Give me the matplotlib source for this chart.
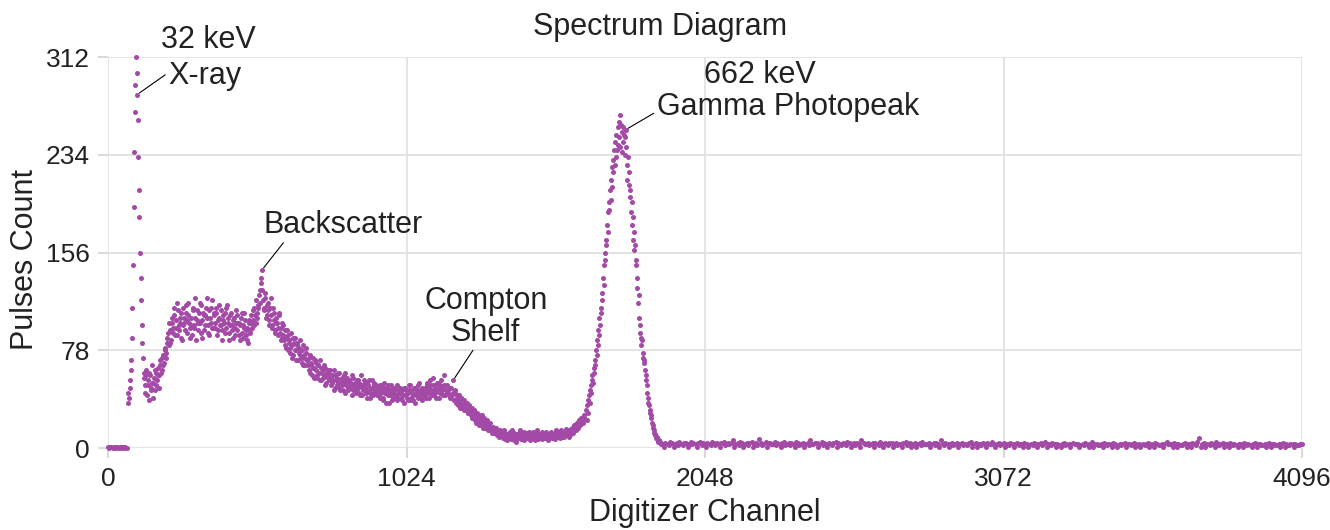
import numpy as np
import matplotlib
matplotlib.use("Agg")
import matplotlib.pyplot as plt

plt.rcParams['font.family'] = ['Liberation Sans', 'DejaVu Sans']

# ---------- Spectrum data: pulses counted per digitizer channel ----------

# below threshold, channels 0..64 (every 4th)
baseline_counts = [1, 0, 1, 1, 0, 1, 0, 1, 1, 0, 1, 0, 1, 1, 0, 1, 0]

# 32 keV X-ray line, channels 68..122 (every 2nd)
xray_counts = [36, 44, 40, 48, 54, 62, 70, 88, 112, 146, 192, 236, 268, 290,
               312, 299, 282, 262, 232, 206, 184, 156, 136, 118, 98, 84, 72, 60]

# Compton continuum with backscatter bump and shelf, channels 124..1348 (every 4th)
compton_counts = [
    56, 44, 62, 50, 38, 58, 48, 66, 52, 46, 60, 54, 64, 58, 70, 62, 74, 68, 80, 76,
    88, 82, 94, 86, 100, 92, 106, 96, 90, 110, 98, 104, 88, 112, 100, 94, 108, 102, 116, 96,
    104, 90, 110, 98, 120, 102, 94, 108, 100, 114, 88, 106, 98, 112, 104, 92, 110, 100, 118, 96,
    106, 100, 112, 94, 104, 98, 110, 86, 102, 108, 96, 114, 100, 92, 106, 98, 88, 104, 96, 110,
    94, 100, 86, 104, 92, 98, 108, 90, 96, 84, 102, 94, 100, 110, 98, 106, 118, 104, 112, 126,
    132, 142, 118, 110, 124, 106, 116, 102, 112, 120, 98, 108, 94, 104, 100, 90, 106, 96, 88, 98,
    86, 94, 80, 90, 84, 76, 92, 82, 74, 88, 78, 84, 70, 80, 74, 68, 82, 72, 66, 76,
    70, 62, 74, 66, 58, 72, 64, 68, 56, 66, 60, 70, 54, 62, 58, 64, 52, 60, 56, 62,
    50, 58, 54, 62, 48, 56, 52, 60, 46, 54, 50, 58, 44, 52, 56, 48, 54, 50, 42, 56,
    48, 52, 46, 54, 44, 50, 58, 42, 48, 52, 46, 40, 50, 54, 44, 48, 42, 52, 46, 50,
    44, 48, 40, 50, 46, 38, 52, 44, 48, 42, 36, 46, 50, 40, 44, 48, 42, 38, 46, 44,
    40, 46, 42, 36, 48, 44, 38, 46, 50, 40, 44, 38, 48, 42, 46, 40, 52, 44, 38, 46,
    42, 48, 44, 52, 40, 46, 50, 44, 56, 42, 48, 46, 52, 40, 50, 44, 48, 58, 42, 46,
    50, 44, 40, 48, 42, 54, 38, 44, 40, 34, 42, 36, 40, 32, 38, 34, 30, 36, 28, 32,
    26, 32, 24, 30, 22, 28, 20, 26, 18, 24, 22, 16, 20, 18, 22, 14, 18, 16, 12, 17,
    14, 12, 15, 10, 13, 11, 12,
]

# same region, channels 126..1346 (every 4th)
compton_counts_b = [
    50, 58, 42, 54, 60, 46, 52, 40, 56, 62, 50, 58, 48, 66, 60, 72, 66, 78, 72, 84,
    92, 100, 84, 104, 96, 112, 90, 102, 116, 94, 100, 108, 86, 98, 104, 114, 92, 106, 100, 88,
    98, 112, 96, 104, 86, 110, 100, 116, 92, 102, 108, 94, 106, 120, 98, 90, 104, 112, 96, 108,
    96, 108, 90, 102, 114, 98, 94, 106, 100, 92, 112, 104, 86, 98, 108, 94, 102, 90, 100, 106,
    100, 90, 98, 108, 88, 96, 102, 94, 86, 100, 92, 106, 96, 102, 112, 100, 108, 114, 122, 116,
    136, 126, 112, 120, 104, 114, 110, 98, 106, 96, 112, 102, 92, 100, 96, 108, 92, 86, 100, 90,
    82, 88, 94, 78, 86, 80, 72, 88, 84, 78, 70, 82, 76, 86, 72, 78, 66, 74, 80, 70,
    66, 72, 60, 68, 64, 56, 70, 62, 58, 66, 54, 64, 60, 56, 66, 50, 58, 62, 54, 58,
    56, 52, 46, 58, 54, 50, 60, 48, 52, 56, 46, 54, 60, 50, 46, 54, 48, 52, 58, 46,
    50, 44, 54, 48, 52, 42, 50, 46, 54, 48, 44, 52, 46, 40, 48, 54, 44, 50, 46, 42,
    46, 42, 50, 44, 40, 48, 44, 36, 46, 50, 42, 44, 38, 48, 46, 42, 50, 40, 44, 48,
    44, 38, 48, 42, 46, 40, 44, 50, 38, 46, 42, 48, 36, 44, 50, 42, 46, 40, 48, 44,
    46, 40, 50, 44, 48, 54, 42, 46, 50, 44, 40, 52, 48, 44, 54, 46, 42, 50, 46, 44,
    46, 42, 48, 40, 44, 38, 46, 36, 42, 38, 32, 40, 34, 38, 30, 36, 32, 28, 34, 30,
    28, 24, 30, 26, 20, 28, 24, 18, 22, 26, 20, 24, 16, 20, 18, 14, 20, 16, 14, 12,
    12, 16, 11, 13, 9, 14,
]

# valley before the photopeak, channels 1352..1636 (every 4th)
valley_counts = [
    12, 8, 14, 10, 6, 11, 9, 13, 7, 10, 12, 8, 5, 11, 9, 14, 7, 10, 12, 6,
    9, 11, 8, 13, 10, 7, 12, 9, 6, 10, 14, 8, 11, 9, 7, 12, 10, 8, 13, 6,
    10, 9, 12, 8, 11, 7, 14, 10, 9, 12, 8, 11, 13, 9, 10, 15, 12, 9, 14, 11,
    16, 12, 18, 14, 20, 16, 22, 19, 24, 20, 26, 23,
]

# same region, channels 1354..1634 (every 4th)
valley_counts_b = [
    10, 13, 7, 11, 9, 12, 8, 10, 14, 9, 6, 11, 10, 8, 12, 9, 11, 7, 13, 10,
    8, 12, 10, 6, 11, 9, 13, 8, 10, 12, 7, 9, 11, 10, 13, 8, 9, 12, 10, 7,
    11, 13, 9, 10, 8, 12, 11, 9, 13, 10, 14, 9, 12, 10, 11, 13, 10, 14, 12, 15,
    13, 17, 15, 19, 17, 21, 18, 23, 21, 25, 24,
]

# 662 keV gamma photopeak, channels 1640..1900 (every 2nd)
photopeak_counts = [
    30, 22, 34, 28, 38, 42, 36, 46, 50, 44, 54, 58, 52, 64, 60, 70, 66, 78, 74, 86,
    82, 94, 90, 104, 98, 112, 108, 124, 118, 136, 130, 146, 156, 150, 166, 162, 178, 172, 188, 196,
    190, 206, 198, 214, 224, 208, 230, 220, 238, 226, 244, 232, 250, 238, 256, 242, 260, 248, 266, 240,
    258, 252, 236, 256, 244, 250, 248, 234, 254, 240, 226, 214, 232, 210, 220, 200, 206, 188, 196, 178,
    184, 166, 172, 158, 162, 146, 150, 136, 128, 116, 122, 104, 98, 92, 88, 82, 86, 76, 72, 68,
    70, 62, 58, 54, 50, 44, 40, 36, 34, 30, 28, 24, 26, 20, 18, 16, 14, 12, 10, 11,
    8, 9, 7, 6, 5, 6, 4, 5, 3, 4, 3,
]

# high-energy tail, channels 1904..4096 (every 8th)
tail_counts = [
    3, 4, 3, 5, 4, 3, 4, 5, 3, 4, 4, 3, 5, 4, 3, 4, 5, 4, 3, 4, 3, 5, 4, 4, 3,
    4, 5, 3, 4, 4, 6, 3, 4, 5, 4, 3, 4, 4, 5, 3, 4, 7, 4, 3, 5, 4, 4, 3, 5, 4,
    3, 4, 5, 3, 4, 4, 3, 5, 4, 3, 4, 3, 4, 6, 3, 4, 4, 3, 5, 4, 3, 4, 3, 4, 5,
    4, 3, 4, 3, 5, 4, 3, 4, 4, 3, 6, 4, 3, 4, 3, 4, 4, 3, 5, 3, 4, 3, 4, 4, 3,
    4, 3, 3, 4, 5, 3, 4, 3, 4, 3, 4, 5, 3, 3, 4, 3, 4, 4, 3, 6, 3, 4, 3, 3, 4,
    3, 4, 3, 4, 3, 3, 4, 5, 3, 4, 3, 3, 4, 3, 4, 3, 5, 3, 3, 4, 3, 4, 3, 3, 4,
    3, 3, 4, 3, 3, 4, 3, 2, 3, 4, 3, 3, 4, 3, 5, 3, 3, 4, 3, 3, 2, 3, 4, 3, 3,
    3, 4, 3, 3, 2, 3, 4, 3, 3, 5, 3, 3, 2, 3, 4, 3, 3, 3, 4, 3, 2, 3, 3, 4, 3,
    3, 3, 4, 3, 3, 2, 3, 3, 4, 3, 3, 4, 3, 2, 3, 3, 5, 3, 3, 4, 3, 3, 2, 3, 4,
    3, 3, 4, 3, 5, 8, 3, 4, 3, 3, 4, 3, 5, 3, 3, 4, 3, 3, 4, 3, 3, 2, 3, 3, 4,
    3, 3, 2, 3, 4, 3, 3, 2, 3, 3, 4, 3, 3, 2, 3, 3, 4, 3, 2, 3, 3, 3, 2, 3, 3,
]

# same tail, channels 1908..4084 (every 16th)
tail_counts_b = [
    1, 2, 1, 2, 2, 1, 3, 1, 2, 1, 2, 2, 1, 2, 3, 1, 2, 1, 2, 1, 2, 2, 1, 3, 2,
    1, 2, 2, 1, 2, 1, 2, 3, 1, 2, 1, 2, 1, 2, 2, 1, 2, 1, 3, 2, 1, 2, 1, 2, 1,
    2, 1, 2, 1, 1, 2, 3, 1, 2, 1, 2, 1, 2, 1, 2, 2, 1, 1, 2, 1, 3, 1, 2, 1, 2,
    1, 2, 1, 1, 2, 1, 2, 1, 2, 1, 1, 2, 1, 3, 1, 2, 1, 1, 2, 1, 2, 1, 1, 2, 1,
    2, 1, 1, 2, 1, 1, 2, 1, 3, 1, 1, 2, 1, 1, 2, 1, 1, 2, 1, 2, 1, 1, 2, 1, 1,
    2, 1, 1, 2, 1, 1, 2, 1, 1, 2, 1, 2,
]

# (first channel, channel step, counts)
segments = [
    (0, 4, baseline_counts),
    (68, 2, xray_counts),
    (124, 4, compton_counts),
    (126, 4, compton_counts_b),
    (1352, 4, valley_counts),
    (1354, 4, valley_counts_b),
    (1640, 2, photopeak_counts),
    (1904, 8, tail_counts),
    (1908, 16, tail_counts_b),
]

x_ticks = [0, 1024, 2048, 3072, 4096]
y_ticks = [0, 78, 156, 234, 312]


def build_spectrum(segs):
    ch, cnt = [], []
    for start, step, vals in segs:
        ch.extend(start + step * np.arange(len(vals)))
        cnt.extend(vals)
    return np.array(ch), np.array(cnt)


def main():
    channels, counts = build_spectrum(segments)

    def point_at(ch):
        i = np.where(channels == ch)[0][0]
        return channels[i], counts[i]

    W, H = 1330, 530
    fig = plt.figure(figsize=(W / 100, H / 100), dpi=100)
    ax = fig.add_axes([108 / W, 82 / H, 1194 / W, 391 / H])

    ax.scatter(channels, counts, s=13, color="#a24aa6", linewidths=0,
               zorder=3, clip_on=False)

    ax.set_xlim(0, 4096)
    ax.set_ylim(0, 312)
    ax.set_xticks(x_ticks)
    ax.set_yticks(y_ticks)
    ax.grid(True, color="#e2e2e2", lw=1.3)
    ax.set_axisbelow(True)
    for sp in ax.spines.values():
        sp.set_visible(False)
    ax.tick_params(axis="both", length=7, width=1.3, color="#d6d6d6",
                   labelsize=19, labelcolor="#222222")
    ax.tick_params(axis="y", pad=6)
    ax.tick_params(axis="x", pad=7)

    ax.set_xlabel("Digitizer Channel", fontsize=22, color="#222222")
    ax.set_ylabel("Pulses Count", fontsize=22, color="#222222")
    ax.xaxis.set_label_coords(0.5, -0.128)
    ax.yaxis.set_label_coords(-0.057, 0.483)

    fig.text(660 / W, 1 - 27 / H, "Spectrum Diagram", ha="center",
             va="center", fontsize=22, color="#222222")

    # peak labels with thin leader lines
    lead = dict(arrowstyle="-", color="black", lw=0.8, shrinkA=0, shrinkB=2)
    txt = dict(fontsize=22, color="#222222", annotation_clip=False)

    ax.text(343, 325.6, "32 keV", ha="center", va="center", fontsize=22,
            color="#222222", clip_on=False)
    ax.annotate("X-ray", xy=point_at(100), xytext=(206, 297), ha="left",
                va="center", arrowprops=dict(lead, relpos=(0, 0.6)), **txt)
    ax.annotate("Backscatter", xy=point_at(528), xytext=(806, 178),
                ha="center", va="center",
                arrowprops=dict(lead, relpos=(0.14, 0)), **txt)
    ax.annotate("Compton\nShelf", xy=point_at(1184), xytext=(1296, 104.5),
                ha="center", va="center", multialignment="center",
                linespacing=1.05, arrowprops=dict(lead, relpos=(0.41, 0)), **txt)
    ax.text(2235, 297.6, "662 keV", ha="center", va="center", fontsize=22,
            color="#222222", clip_on=False)
    ax.annotate("Gamma Photopeak", xy=point_at(1776), xytext=(1882, 272),
                ha="left", va="center",
                arrowprops=dict(lead, relpos=(0, 0.35)), **txt)

    fig.savefig("out.png", dpi=100)


if __name__ == "__main__":
    main()
